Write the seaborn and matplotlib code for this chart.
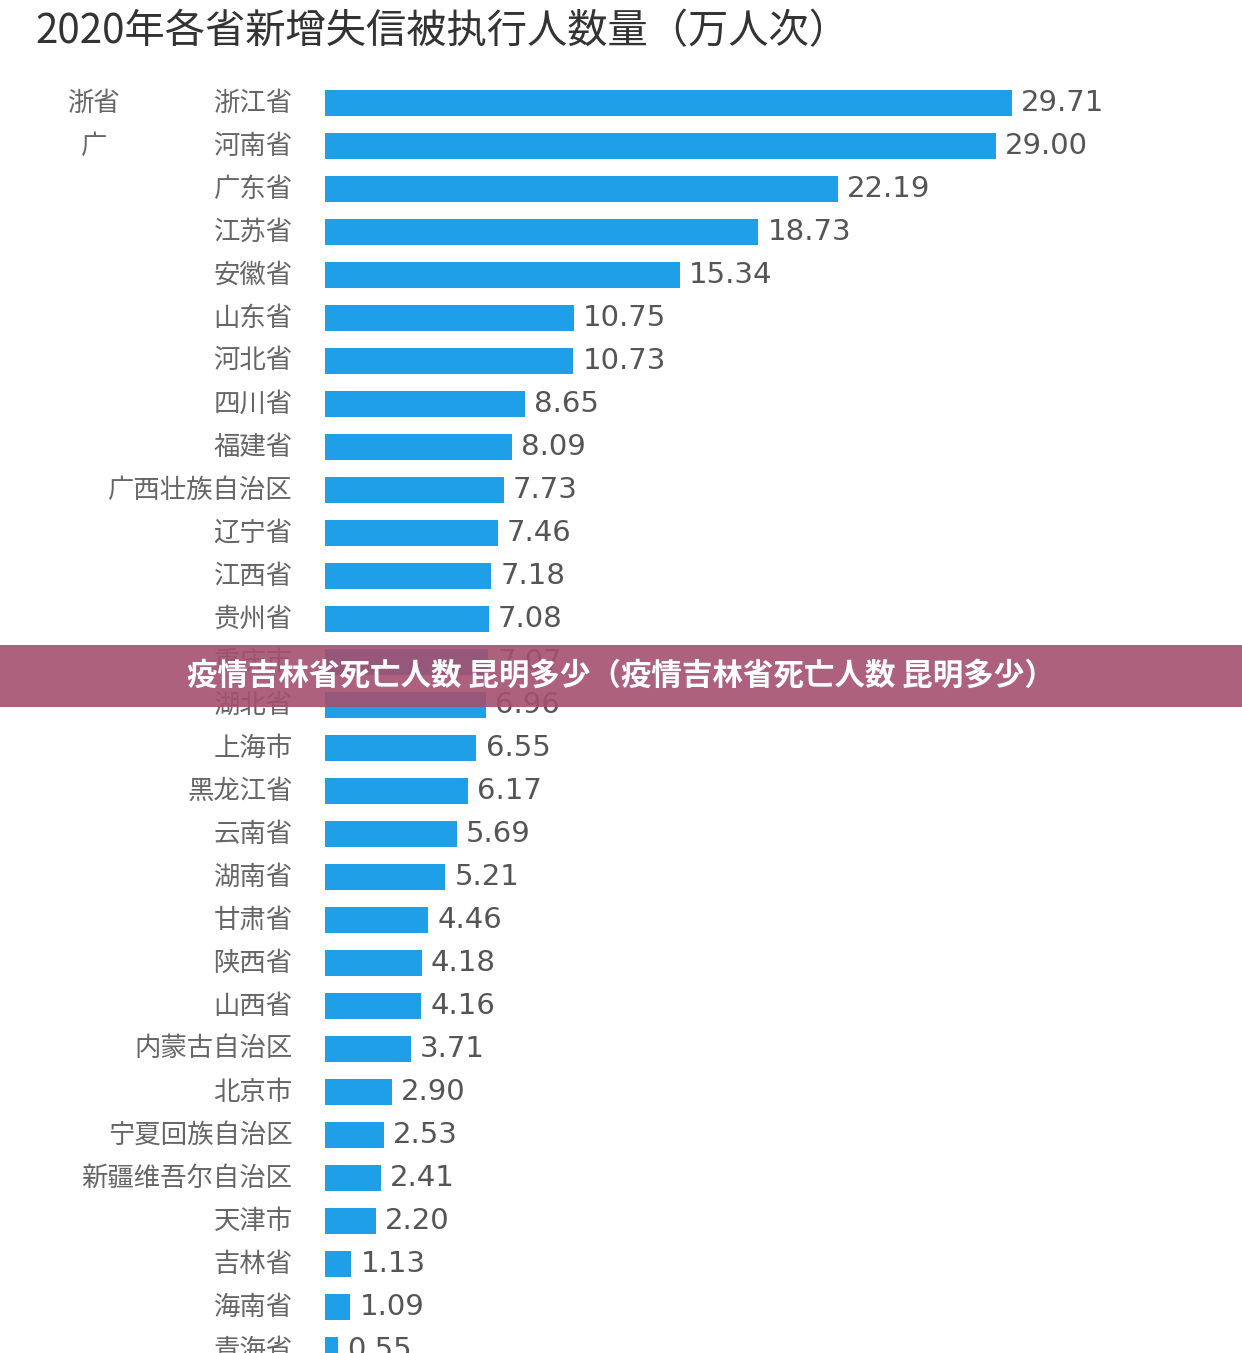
import matplotlib
matplotlib.use("Agg")
import matplotlib.pyplot as plt
import pandas as pd
import seaborn as sns
from matplotlib.patches import Rectangle

CJK = ["Noto Sans CJK JP", "Noto Sans CJK SC", "Noto Sans CJK TC", "Noto Sans CJK KR", "DejaVu Sans"]
plt.rcParams["font.family"] = CJK

provinces = ["浙江省", "河南省", "广东省", "江苏省", "安徽省", "山东省", "河北省", "四川省",
             "福建省", "广西壮族自治区", "辽宁省", "江西省", "贵州省", "重庆市", "湖北省",
             "上海市", "黑龙江省", "云南省", "湖南省", "甘肃省", "陕西省", "山西省",
             "内蒙古自治区", "北京市", "宁夏回族自治区", "新疆维吾尔自治区", "天津市",
             "吉林省", "海南省", "青海省"]
values = [29.71, 29.00, 22.19, 18.73, 15.34, 10.75, 10.73, 8.65, 8.09, 7.73, 7.46, 7.18,
          7.08, 7.07, 6.96, 6.55, 6.17, 5.69, 5.21, 4.46, 4.18, 4.16, 3.71, 2.90, 2.53,
          2.41, 2.20, 1.13, 1.09, 0.55]

W, H = 1242, 1353
fig = plt.figure(figsize=(W / 100, H / 100), dpi=100)
ax = fig.add_axes([325 / W, 0, 1 - 325 / W, 1])
df = pd.DataFrame({"province": provinces, "value": values})
sns.barplot(data=df, x="value", y="province", orient="h", color="#1f9fe8",
            saturation=1, width=0.6, ax=ax)
px_per_unit = 687 / 29.71
ax.set_xlim(0, (W - 325) / px_per_unit)
ax.set_ylim((H - 103) / 43, -103 / 43)
ax.axis("off")

for i, (p, v) in enumerate(zip(provinces, values)):
    ax.text(v + 0.4, i, f"{v:.2f}", va="center", ha="left", fontsize=21,
            color="#555555", family="DejaVu Sans")
    ax.text(-1.4, i, p, va="center", ha="right", fontsize=19, color="#666666", family=CJK)
ax.text(-10.0, 0, "浙省", va="center", ha="center", fontsize=19, color="#666666", family=CJK)
ax.text(-10.0, 1, "广", va="center", ha="center", fontsize=19, color="#666666", family=CJK)

fig.text(35 / W, 1 - 32 / H, "2020年各省新增失信被执行人数量（万人次）", fontsize=29,
         color="#333333", va="center", ha="left", family=CJK)

fig.patches.append(Rectangle((0, 1 - 707 / H), 1, 62 / H, transform=fig.transFigure,
                             facecolor="#a4506f", alpha=0.9, zorder=5))
fig.text(0.5, 1 - 676 / H, "疫情吉林省死亡人数 昆明多少（疫情吉林省死亡人数 昆明多少）",
         fontsize=22, fontweight="bold", color="white", ha="center", va="center",
         zorder=6, family=CJK)

fig.savefig("out.png", dpi=100)
